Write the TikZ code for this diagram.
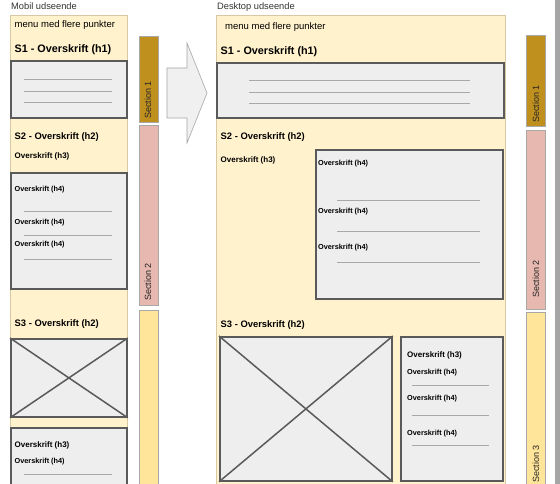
\documentclass[tikz,border=0pt]{standalone}
\usepackage{fontspec}
\setmainfont{Liberation Sans}
\usetikzlibrary{positioning}
\definecolor{panelfill}{HTML}{FFF2CC}
\definecolor{panelborder}{HTML}{D8C9A3}
\definecolor{boxfill}{HTML}{EEEEEE}
\definecolor{boxborder}{HTML}{5A5A5A}
\definecolor{linegray}{HTML}{A8A8A8}
\definecolor{secone}{HTML}{C0901F}
\definecolor{sectwo}{HTML}{E6B8AF}
\definecolor{secthree}{HTML}{FFE599}
\begin{document}
\begin{tikzpicture}[x=1pt,y=-1pt,
  panel/.style={draw=panelborder,fill=panelfill,line width=0.7pt,anchor=north west,inner sep=0},
  mock box/.style={draw=boxborder,fill=boxfill,line width=1.8pt,anchor=north west,inner sep=0},
  sec bar/.style={draw=linegray,line width=0.6pt,anchor=north west,inner sep=0,minimum width=19pt},
  text line/.style={draw=linegray,line width=0.7pt},
  cross/.style={draw=boxborder,line width=1.5pt},
  caption/.style={anchor=west,inner sep=0,text=black!80,font=\fontsize{9.3}{11}\selectfont},
  menu/.style={anchor=west,inner sep=0,font=\fontsize{9.5}{11}\selectfont},
  h1/.style={anchor=west,inner sep=0,font=\bfseries\fontsize{10.8}{13}\selectfont},
  h2/.style={anchor=west,inner sep=0,font=\bfseries\fontsize{9.4}{11}\selectfont},
  h3/.style={anchor=west,inner sep=0,font=\bfseries\fontsize{8}{10}\selectfont},
  h4/.style={anchor=west,inner sep=0,font=\bfseries\fontsize{7.3}{9}\selectfont},
  sec label/.style={anchor=west,rotate=90,inner sep=0,text=black!85,font=\fontsize{9}{11}\selectfont}]
  \clip (0,0) rectangle (560,484);
  \fill[white] (0,0) rectangle (560,484);
  \fill[black!35] (555,0) rectangle (560,484);

  % mobil
  \node[caption] (mtitle) at (11,6.5) {Mobil udseende};
  \node[panel,minimum width=117pt,minimum height=480pt] (mpanel) at (10,15) {};
  \node[menu] (mmenu) at (14.5,25) {menu med flere punkter};
  \node[h1] (ms1) at (14.5,50) {S1 - Overskrift (h1)};
  \node[mock box,minimum width=116pt,minimum height=57pt] (ms1box) at (10,60) {};
  \foreach \y in {79,91,102} \draw[text line] (24,\y) -- (112,\y);
  \node[h2] (ms2) at (14.5,137) {S2 - Overskrift (h2)};
  \node[h3] (ms2h3) at (14.5,156) {Overskrift (h3)};
  \node[mock box,minimum width=116pt,minimum height=116pt] (ms2box) at (10,172) {};
  \node[h4] (ms2a) at (14.5,190) {Overskrift (h4)};
  \node[h4] (ms2b) at (14.5,223) {Overskrift (h4)};
  \node[h4] (ms2c) at (14.5,245) {Overskrift (h4)};
  \foreach \y in {211,235,259} \draw[text line] (24,\y) -- (112,\y);
  \node[h2] (ms3) at (14.5,324) {S3 - Overskrift (h2)};
  \node[mock box,minimum width=116pt,minimum height=78pt] (ms3img) at (10,338) {};
  \draw[cross] (ms3img.north west) -- (ms3img.south east)
               (ms3img.south west) -- (ms3img.north east);
  \node[mock box,minimum width=116pt,minimum height=70pt] (ms3box) at (10,427) {};
  \node[h3] (ms3h3) at (14.5,445) {Overskrift (h3)};
  \node[h4] (ms3a) at (14.5,462) {Overskrift (h4)};
  \draw[text line] (24,474) -- (112,474);

  \node[sec bar,fill=secone,minimum height=86pt] (msec1) at (138.5,36) {};
  \node[sec bar,fill=sectwo,minimum height=180pt] (msec2) at (138.5,125) {};
  \node[sec bar,fill=secthree,minimum height=180pt] (msec3) at (138.5,310) {};
  \node[sec label] (msec1l) at (148,119) {Section 1};
  \node[sec label] (msec2l) at (148,301) {Section 2};

  \draw[draw=black!35,fill=black!6,line width=0.6pt]
    (167,68) -- (187,68) -- (187,43) -- (207,93) -- (187,143) -- (187,118) -- (167,118) -- cycle;

  % desktop
  \node[caption] (dtitle) at (217,7) {Desktop udseende};
  \node[panel,minimum width=289pt,minimum height=480pt] (dpanel) at (216,15) {};
  \node[menu] (dmenu) at (225,27) {menu med flere punkter};
  \node[h1] (ds1) at (220.5,52) {S1 - Overskrift (h1)};
  \node[mock box,minimum width=287pt,minimum height=55pt] (ds1box) at (216,62) {};
  \foreach \y in {80,92,103} \draw[text line] (249,\y) -- (470,\y);
  \node[h2] (ds2) at (220.5,137) {S2 - Overskrift (h2)};
  \node[h3] (ds2h3) at (220.5,160) {Overskrift (h3)};
  \node[mock box,minimum width=187pt,minimum height=149pt] (ds2box) at (315,149) {};
  \node[h4] (ds2a) at (318,164) {Overskrift (h4)};
  \node[h4] (ds2b) at (318,212) {Overskrift (h4)};
  \node[h4] (ds2c) at (318,248) {Overskrift (h4)};
  \foreach \y in {200,231,262} \draw[text line] (337,\y) -- (480,\y);
  \node[h2] (ds3) at (220.5,325) {S3 - Overskrift (h2)};
  \node[mock box,minimum width=172pt,minimum height=144pt] (ds3img) at (219,336) {};
  \draw[cross] (ds3img.north west) -- (ds3img.south east)
               (ds3img.south west) -- (ds3img.north east);
  \node[mock box,minimum width=102pt,minimum height=144pt] (ds3box) at (400,336) {};
  \node[h3] (ds3h3) at (407,355) {Overskrift (h3)};
  \node[h4] (ds3a) at (407,373) {Overskrift (h4)};
  \node[h4] (ds3b) at (407,399) {Overskrift (h4)};
  \node[h4] (ds3c) at (407,434) {Overskrift (h4)};
  \foreach \y in {385,415,445} \draw[text line] (412,\y) -- (489,\y);

  \node[sec bar,fill=secone,minimum height=91pt] (dsec1) at (526,35) {};
  \node[sec bar,fill=sectwo,minimum height=179pt] (dsec2) at (526,130) {};
  \node[sec bar,fill=secthree,minimum height=180pt] (dsec3) at (526,312) {};
  \node[sec label] (dsec1l) at (536,123) {Section 1};
  \node[sec label] (dsec2l) at (536,298) {Section 2};
  \node[sec label] (dsec3l) at (536,483) {Section 3};
\end{tikzpicture}
\end{document}
